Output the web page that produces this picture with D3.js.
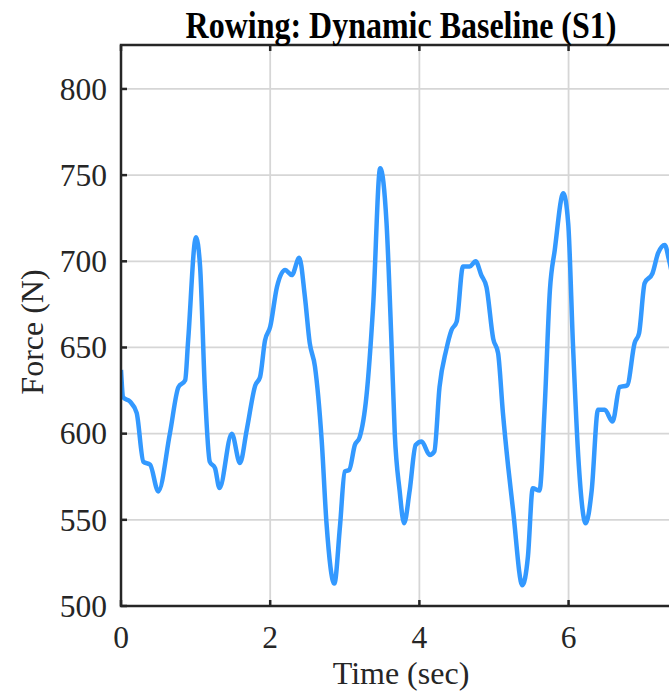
<!DOCTYPE html>
<html>
<head>
<meta charset="utf-8">
<script src="https://cdn.jsdelivr.net/npm/d3@7"></script>
<style>
  body { margin: 0; background: #fff; }
  svg { display: block; font-family: "Liberation Serif", "Times New Roman", serif; }
</style>
</head>
<body>
<svg id="chart" width="669" height="695"></svg>
<script>
// données
const title = "Rowing: Dynamic Baseline (S1)";
const xLabel = "Time (sec)";
const yLabel = "Force (N)";
const xTicks = [0, 2, 4, 6];
const yTicks = [500, 550, 600, 650, 700, 750, 800];

const time = [0, 0.03, 0.12, 0.21, 0.30, 0.39, 0.50, 0.655, 0.77, 0.86, 0.90, 1.005, 1.06, 1.125,
  1.19, 1.26, 1.32, 1.485, 1.595, 1.685, 1.80, 1.865, 1.93, 2.0, 2.09, 2.2, 2.29, 2.39, 2.465,
  2.53, 2.60, 2.69, 2.755, 2.86, 2.935, 3.0, 3.06, 3.135, 3.2, 3.29, 3.38, 3.475, 3.56, 3.625,
  3.67, 3.735, 3.795, 3.87, 3.95, 4.03, 4.14, 4.2, 4.27, 4.36, 4.43, 4.50, 4.585, 4.675, 4.755,
  4.83, 4.90, 4.99, 5.055, 5.12, 5.19, 5.255, 5.38, 5.455, 5.52, 5.61, 5.68, 5.75, 5.815, 5.93,
  5.995, 6.06, 6.13, 6.23, 6.31, 6.395, 6.485, 6.59, 6.685, 6.785, 6.885, 6.945, 7.02, 7.125,
  7.2, 7.29, 7.345, 7.4];
const force = [637, 621, 618.6, 612, 583.7, 582, 566.5, 600, 627, 631, 654, 714, 697, 625,
  583.7, 580, 568.5, 600, 583, 602, 628, 633, 654, 662, 685, 695, 692, 702, 679.5,
  652.6, 639, 596.3, 548, 513, 546, 578, 579, 593.4, 598, 621.5, 674, 754, 722, 654,
  600, 567, 548, 567, 593.4, 595.4, 587.6, 589.6, 627, 648.6, 660, 665, 697, 697, 700,
  692, 685, 655, 646.7, 612, 581, 556, 512, 528.6, 568.3, 567, 615.7, 683.4, 706.6, 739.5,
  722, 650.6, 586.8, 548, 567, 613.8, 613.8, 607, 627, 628, 652.5, 658.3, 687.3, 693,
  704.7, 709.5, 701, 690];

const svg = d3.select("#chart");
const margin = { left: 121, top: 45, right: 673, bottom: 606 };

const x = d3.scaleLinear().domain([0, 7.4]).range([margin.left, margin.right]);
const y = d3.scaleLinear().domain([500, 825.5]).range([margin.bottom, margin.top]);

const axisColor = "#262626";
const gridColor = "#d6d6d6";

// grille
svg.append("g")
  .selectAll("line")
  .data(xTicks.filter((d) => d > 0))
  .join("line")
  .attr("x1", (d) => x(d)).attr("x2", (d) => x(d))
  .attr("y1", margin.top).attr("y2", margin.bottom)
  .attr("stroke", gridColor).attr("stroke-width", 1.8);

svg.append("g")
  .selectAll("line")
  .data(yTicks.filter((d) => d > 500))
  .join("line")
  .attr("x1", margin.left).attr("x2", margin.right)
  .attr("y1", (d) => y(d)).attr("y2", (d) => y(d))
  .attr("stroke", gridColor).attr("stroke-width", 1.8);

// courbe
svg.append("clipPath").attr("id", "clip")
  .append("rect")
  .attr("x", margin.left).attr("y", margin.top)
  .attr("width", margin.right - margin.left).attr("height", margin.bottom - margin.top);

const line = d3.line()
  .x((d, i) => x(time[i]))
  .y((d) => y(d))
  .curve(d3.curveMonotoneX);

svg.append("path")
  .datum(force)
  .attr("clip-path", "url(#clip)")
  .attr("fill", "none")
  .attr("stroke", "#3399ff")
  .attr("stroke-width", 4.5)
  .attr("stroke-linejoin", "round")
  .attr("d", line);

// cadre des axes
svg.append("rect")
  .attr("x", margin.left).attr("y", margin.top)
  .attr("width", margin.right - margin.left).attr("height", margin.bottom - margin.top)
  .attr("fill", "none").attr("stroke", axisColor).attr("stroke-width", 2.5);

// graduations vers l'intérieur
const tickLen = 6;
svg.append("g")
  .selectAll("line")
  .data(yTicks)
  .join("line")
  .attr("x1", margin.left).attr("x2", margin.left + tickLen)
  .attr("y1", (d) => y(d)).attr("y2", (d) => y(d))
  .attr("stroke", axisColor).attr("stroke-width", 2.5);

svg.append("g")
  .selectAll("line")
  .data(xTicks)
  .join("line")
  .attr("x1", (d) => x(d)).attr("x2", (d) => x(d))
  .attr("y1", margin.bottom).attr("y2", margin.bottom - tickLen)
  .attr("stroke", axisColor).attr("stroke-width", 2.5);

svg.append("g")
  .selectAll("line")
  .data(xTicks)
  .join("line")
  .attr("x1", (d) => x(d)).attr("x2", (d) => x(d))
  .attr("y1", margin.top).attr("y2", margin.top + tickLen)
  .attr("stroke", axisColor).attr("stroke-width", 2.5);

// étiquettes
svg.append("g")
  .selectAll("text")
  .data(yTicks)
  .join("text")
  .attr("x", margin.left - 14)
  .attr("y", (d) => y(d))
  .attr("dy", "0.34em")
  .attr("text-anchor", "end")
  .attr("font-size", 31.5)
  .attr("fill", "#262626")
  .text((d) => d);

svg.append("g")
  .selectAll("text")
  .data(xTicks)
  .join("text")
  .attr("x", (d) => x(d))
  .attr("y", 648)
  .attr("text-anchor", "middle")
  .attr("font-size", 31.5)
  .attr("fill", "#262626")
  .text((d) => d);

svg.append("text")
  .attr("x", 401).attr("y", 684)
  .attr("text-anchor", "middle")
  .attr("font-size", 32)
  .attr("fill", "#262626")
  .text(xLabel);

svg.append("text")
  .attr("transform", "translate(43,332) rotate(-90)")
  .attr("text-anchor", "middle")
  .attr("font-size", 32)
  .attr("fill", "#262626")
  .text(yLabel);

svg.append("text")
  .attr("transform", "translate(401,38) scale(1,1.2)")
  .attr("text-anchor", "middle")
  .attr("font-size", 32)
  .attr("font-weight", "bold")
  .attr("fill", "#000")
  .text(title);
</script>
</body>
</html>
